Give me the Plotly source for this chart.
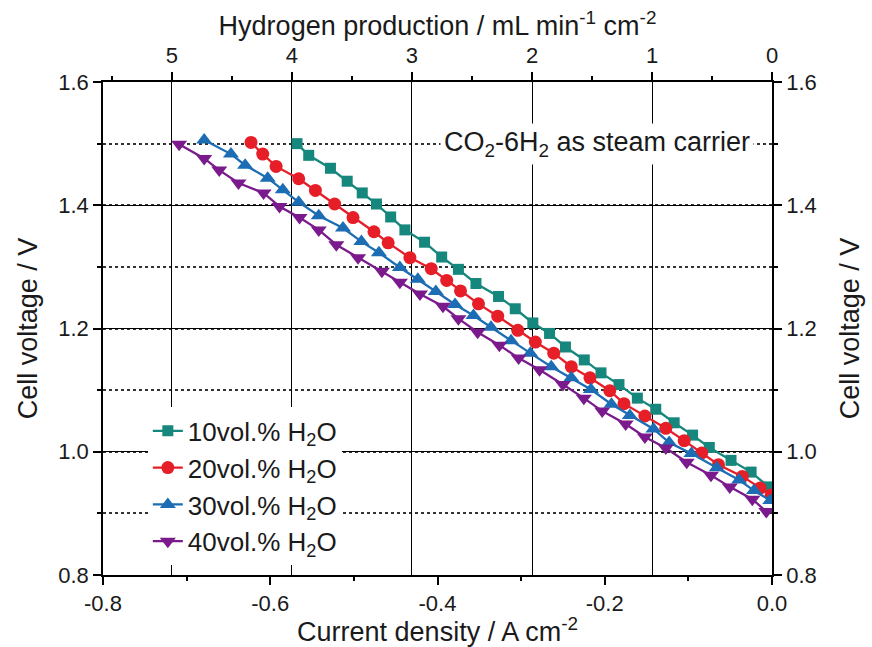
import plotly.graph_objects as go

# ---- data (current density A/cm2, cell voltage V) ----
i_10 = [-0.568, -0.554, -0.528, -0.508, -0.490, -0.473, -0.456, -0.439, -0.4155, -0.395,
        -0.375, -0.354, -0.327, -0.307, -0.286, -0.266, -0.247, -0.2245, -0.2045, -0.183,
        -0.161, -0.139, -0.117, -0.095, -0.075, -0.049, -0.025, -0.004]
v_10 = [1.500, 1.481, 1.460, 1.439, 1.420, 1.402, 1.381, 1.360, 1.340, 1.316,
        1.296, 1.273, 1.252, 1.232, 1.209, 1.192, 1.170, 1.149, 1.128, 1.109,
        1.087, 1.069, 1.047, 1.027, 1.007, 0.986, 0.967, 0.943]

i_20 = [-0.623, -0.609, -0.593, -0.566, -0.546, -0.523, -0.501, -0.476, -0.459, -0.433,
        -0.4075, -0.389, -0.3725, -0.351, -0.328, -0.304, -0.283, -0.261, -0.240, -0.2177,
        -0.194, -0.177, -0.152, -0.127, -0.105, -0.084, -0.064, -0.0355, -0.0143, -0.001]
v_20 = [1.502, 1.483, 1.463, 1.443, 1.424, 1.402, 1.380, 1.357, 1.339, 1.315,
        1.297, 1.278, 1.261, 1.240, 1.220, 1.197, 1.178, 1.160, 1.138, 1.120,
        1.099, 1.078, 1.058, 1.038, 1.018, 0.998, 0.979, 0.960, 0.941, 0.930]

i_30 = [-0.679, -0.647, -0.630, -0.603, -0.585, -0.566, -0.542, -0.513, -0.491, -0.470,
        -0.445, -0.4235, -0.402, -0.379, -0.357, -0.336, -0.312, -0.289, -0.264, -0.240,
        -0.2165, -0.192, -0.170, -0.1417, -0.123, -0.0964, -0.066, -0.0394, -0.0215, -0.002]
v_30 = [1.506, 1.483, 1.465, 1.444, 1.425, 1.405, 1.383, 1.363, 1.341, 1.323,
        1.299, 1.280, 1.260, 1.239, 1.221, 1.202, 1.180, 1.160, 1.138, 1.120,
        1.101, 1.077, 1.059, 1.037, 1.015, 0.997, 0.974, 0.954, 0.937, 0.921]

i_40 = [-0.709, -0.679, -0.661, -0.638, -0.608, -0.589, -0.565, -0.542, -0.521, -0.495,
        -0.4665, -0.445, -0.421, -0.3935, -0.375, -0.352, -0.326, -0.303, -0.278, -0.250,
        -0.225, -0.203, -0.175, -0.152, -0.127, -0.102, -0.073, -0.0505, -0.0235, -0.0068]
v_40 = [1.499, 1.476, 1.457, 1.436, 1.420, 1.398, 1.380, 1.360, 1.336, 1.315,
        1.293, 1.275, 1.256, 1.236, 1.216, 1.194, 1.173, 1.152, 1.133, 1.109,
        1.087, 1.066, 1.045, 1.024, 1.006, 0.983, 0.962, 0.943, 0.923, 0.903]

# tick labels
x_ticks = [-0.8, -0.6, -0.4, -0.2, 0.0]
x_ticklabels = ["-0.8", "-0.6", "-0.4", "-0.2", "0.0"]
h2_ticks = [5, 4, 3, 2, 1, 0]
h2_ticklabels = ["5", "4", "3", "2", "1", "0"]
y_ticks = [0.8, 1.0, 1.2, 1.4, 1.6]
y_ticklabels = ["0.8", "1.0", "1.2", "1.4", "1.6"]

names = ["10vol.% H<sub>2</sub>O", "20vol.% H<sub>2</sub>O",
         "30vol.% H<sub>2</sub>O", "40vol.% H<sub>2</sub>O"]
colors = ["#16877c", "#e61e28", "#1c6db3", "#7a1a8c"]
symbols = ["square", "circle", "triangle-up", "triangle-down"]
sizes = [11, 13, 14, 14]

# 1 mL min-1 cm-2 of H2 corresponds to about 0.1435 A cm-2
A_PER_ML = 0.1435

FONT = "Liberation Sans, Arial, sans-serif"
TXT = "#1a1a1a"

fig = go.Figure()
for k, (xs, ys) in enumerate([(i_10, v_10), (i_20, v_20), (i_30, v_30), (i_40, v_40)]):
    fig.add_trace(go.Scatter(
        x=xs, y=ys, mode="lines+markers", name=names[k],
        line=dict(color=colors[k], width=2.3),
        marker=dict(symbol=symbols[k], size=sizes[k], color=colors[k]),
    ))

axis_common = dict(
    showline=True, linecolor="black", linewidth=1.5,
    ticks="outside", tickcolor="black", tickwidth=1.5, ticklen=8,
    tickfont=dict(family=FONT, size=22, color=TXT),
    zeroline=False,
)
minor_common = dict(ticks="outside", ticklen=4, tickcolor="black", tickwidth=1.5)
title_font = dict(family=FONT, size=27, color=TXT)

fig.update_layout(
    width=872, height=647,
    margin=dict(l=103, r=99, t=82, b=66),
    paper_bgcolor="white", plot_bgcolor="white",
    font=dict(family=FONT, color=TXT),
    showlegend=True,
    legend=dict(
        x=0.067, y=0.340, xanchor="left", yanchor="top",
        bgcolor="white", borderwidth=0,
        font=dict(family=FONT, size=26, color=TXT),
    ),
    xaxis=dict(
        **axis_common,
        range=[-0.8, 0.0], tickvals=x_ticks, ticktext=x_ticklabels,
        minor=dict(dtick=0.1, tick0=0, **minor_common),
        showgrid=False,
        title=dict(text="Current density / A cm<sup>-2</sup>", font=title_font, standoff=0),
    ),
    xaxis2=dict(
        **axis_common,
        overlaying="x", side="top", anchor="y",
        range=[0.8 / A_PER_ML, 0.0], tickvals=h2_ticks, ticktext=h2_ticklabels,
        minor=dict(dtick=0.5, tick0=0, **minor_common),
        showgrid=True, gridcolor="black", gridwidth=1.3,
        title=dict(text="Hydrogen production / mL min<sup>-1</sup> cm<sup>-2</sup>",
                   font=title_font, standoff=0),
    ),
    yaxis=dict(
        **axis_common,
        range=[0.8, 1.6], tickvals=y_ticks, ticktext=y_ticklabels,
        showgrid=True, gridcolor="black", gridwidth=1.3,
        minor=dict(dtick=0.1, tick0=0, showgrid=True, gridcolor="#333",
                   gridwidth=1.5, griddash="dot", **minor_common),
        title=dict(text="Cell voltage / V", font=title_font, standoff=13),
    ),
    yaxis2=dict(
        **axis_common,
        overlaying="y", side="right", anchor="x",
        range=[0.8, 1.6], tickvals=y_ticks, ticktext=y_ticklabels,
        minor=dict(dtick=0.1, tick0=0, **minor_common),
        showgrid=False,
        title=dict(text="Cell voltage / V", font=title_font, standoff=24),
    ),
)

# invisible trace so the secondary axes are rendered
fig.add_trace(go.Scatter(x=[None], y=[None], xaxis="x2", yaxis="y2",
                         showlegend=False, hoverinfo="skip"))

fig.add_annotation(
    x=0.738, y=1.5, xref="paper", yref="y",
    text="CO<sub>2</sub>-6H<sub>2</sub> as steam carrier",
    showarrow=False, bgcolor="white",
    font=dict(family=FONT, size=27, color=TXT),
    xanchor="center", yanchor="middle", borderpad=3,
)

fig.write_html("out.html")
